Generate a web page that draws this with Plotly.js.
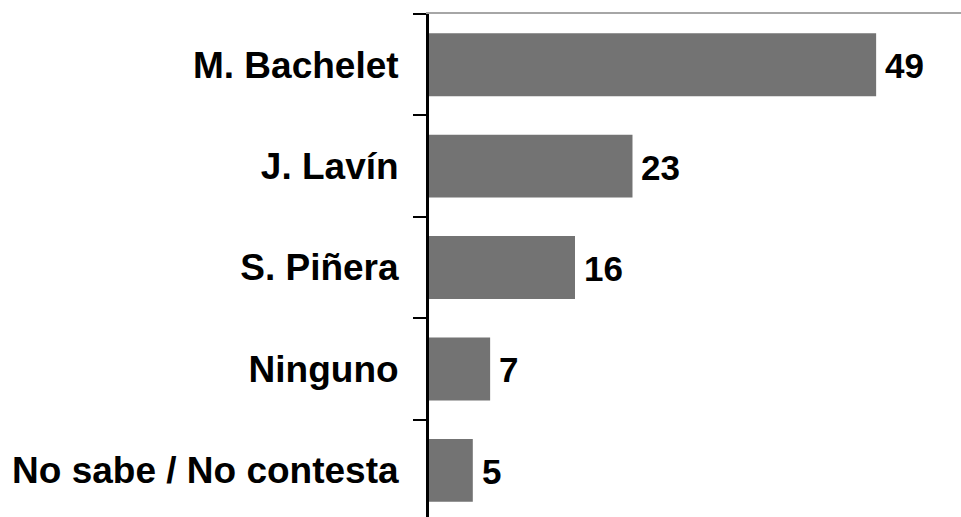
<!DOCTYPE html>
<html><head><meta charset="utf-8">
<script src="https://cdn.plot.ly/plotly-3.0.1.min.js"></script>
<style>html,body{margin:0;padding:0;background:#fff}#c{width:961px;height:517px}</style>
</head><body><div id="c"></div>
<script>
const categories = ["M. Bachelet", "J. Lavín", "S. Piñera", "Ninguno", "No sabe / No contesta"];
const values = [49, 22.3, 16.0, 6.7, 4.8];
const valueLabels = ["49", "23", "16", "7", "5"];

const FONT = "Liberation Sans, Arial, sans-serif";
const trace = {
  type: "bar", orientation: "h",
  x: values, y: categories,
  marker: {color: "#737373", line: {width: 0}},
  width: 0.62,
  hoverinfo: "none"
};
const annotations = categories.map((c, i) => ({
  x: values[i], y: c, xref: "x", yref: "y",
  text: valueLabels[i], showarrow: false,
  xanchor: "left", xshift: 7, yshift: -1,
  font: {family: FONT, size: 35, color: "#000", weight: "bold"}
}));
const layout = {
  width: 961, height: 517,
  margin: {l: 429, r: 0, t: 14, b: 0},
  paper_bgcolor: "#fff", plot_bgcolor: "#fff",
  showlegend: false,
  xaxis: {range: [0, 58.3], side: "top", showline: true, linecolor: "#a6a6a6", linewidth: 2,
          showgrid: false, zeroline: false, showticklabels: false, ticks: ""},
  yaxis: {type: "category", range: [4.46, -0.5], showline: true, linecolor: "#000", linewidth: 3,
          ticks: "outside", tickson: "boundaries", ticklen: 13, tickwidth: 2, tickcolor: "#000",
          ticklabelstandoff: 20, showgrid: false, zeroline: false,
          tickfont: {family: FONT, size: 37, color: "#000", weight: "bold"}},
  annotations: annotations
};
Plotly.newPlot("c", [trace], layout, {staticPlot: true});
</script></body></html>
